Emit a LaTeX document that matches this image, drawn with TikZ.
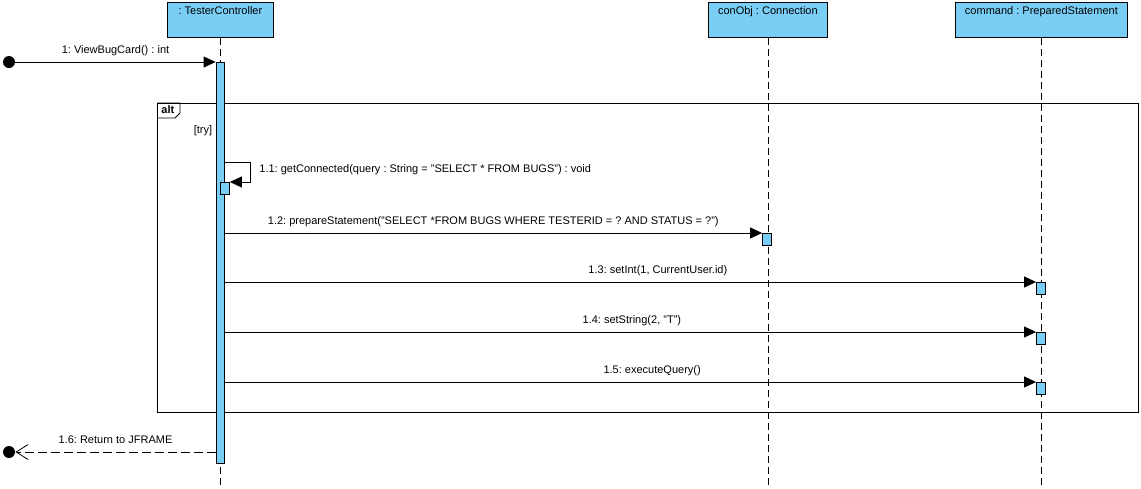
\documentclass[tikz,border=0pt]{standalone}
\usepackage{fontspec}
\setmainfont{Liberation Sans}
\usetikzlibrary{arrows.meta}
\definecolor{vpblue}{RGB}{122,206,245}
\frenchspacing

\begin{document}
\begin{tikzpicture}[x=1pt, y=-1pt, line width=0.8pt,
    every node/.style={font=\fontsize{11}{13}\selectfont},
    head/.style={draw, fill=vpblue, anchor=north west, inner xsep=0pt,
                 inner ysep=3pt, text height=9pt, text depth=20pt},
    life/.style={dash pattern=on 7pt off 4pt},
    bar/.style={draw, fill=vpblue, anchor=north, minimum width=8pt, inner sep=0pt},
    act/.style={draw, fill=vpblue, anchor=north, minimum width=9pt,
                minimum height=12pt, inner sep=0pt},
    dot/.style={circle, fill=black, minimum size=12pt, inner sep=0pt},
    frame/.style={draw, anchor=north west, inner sep=0pt},
    msg/.style={-{Triangle[length=12pt,width=11pt]}},
    ret/.style={dash pattern=on 9pt off 4pt, -{Straight Barb[length=12pt,width=15pt]}},
    lbl/.style={above=4pt, inner sep=2pt, text height=8pt, text depth=2pt}
]
\useasboundingbox (0,0) rectangle (1141,488);

% combined fragment
\node[frame, minimum width=981pt, minimum height=309pt] (alt) at (157,103) {};
\draw (alt.north west) -- ++(23,0) -- ++(0,10) -- ++(-5,5) -- ++(-18,0);
\node[anchor=west, inner sep=0pt, font=\fontsize{11}{13}\selectfont\bfseries] (alttag) at (161,110) {alt};
\node[inner sep=0pt] (guard) at (203,131) {[try]};

% lifelines
\node[head, minimum width=106pt] (tc)   at (167,2) {: TesterController};
\node[head, minimum width=119pt] (conn) at (708,2) {conObj : Connection};
\node[head, minimum width=172pt] (cmd)  at (955,2) {command : PreparedStatement};
\draw[life] (tc.south) -- (tc.south |- 0,488);
\draw[life] (conn.south) -- (conn.south |- 0,488);
\draw[life] (cmd.south) -- (cmd.south |- 0,488);

% activations
\node[bar, minimum height=401pt] (tcbar) at (220,62) {};
\node[act] (act11) at (225,182) {};
\node[act] (act12) at (767,233) {};
\node[act] (act13) at (1041,282) {};
\node[act] (act14) at (1041,332) {};
\node[act] (act15) at (1041,382) {};

\node[dot] (found) at (9,62) {};
\node[dot] (lost) at (9,452) {};

% messages
\draw[msg] (found) -- node[lbl]{1: ViewBugCard() : int} (tcbar.north west);
\draw[msg] (tcbar.east |- 0,162) -- ++(26,0) |- (act11.north east);
\node[anchor=west, inner sep=0pt] (l11) at (259,170)
  {1.1: getConnected(query : String = "SELECT * FROM BUGS") : void};
\draw[msg] (tcbar.east |- act12.north) -- node[lbl]
  {1.2: prepareStatement("SELECT *FROM BUGS WHERE TESTERID = ? AND STATUS = ?")} (act12.north west);
\draw[msg] (tcbar.east |- act13.north) -- node[lbl, pos=.534]{1.3: setInt(1, CurrentUser.id)} (act13.north west);
\draw[msg] (tcbar.east |- act14.north) -- node[lbl, pos=.502]{1.4: setString(2, "T")} (act14.north west);
\draw[msg] (tcbar.east |- act15.north) -- node[lbl, pos=.527]{1.5: executeQuery()} (act15.north west);
\draw[ret] (tcbar.west |- lost) -- node[lbl]{1.6: Return to JFRAME} (lost);

\end{tikzpicture}
\end{document}
